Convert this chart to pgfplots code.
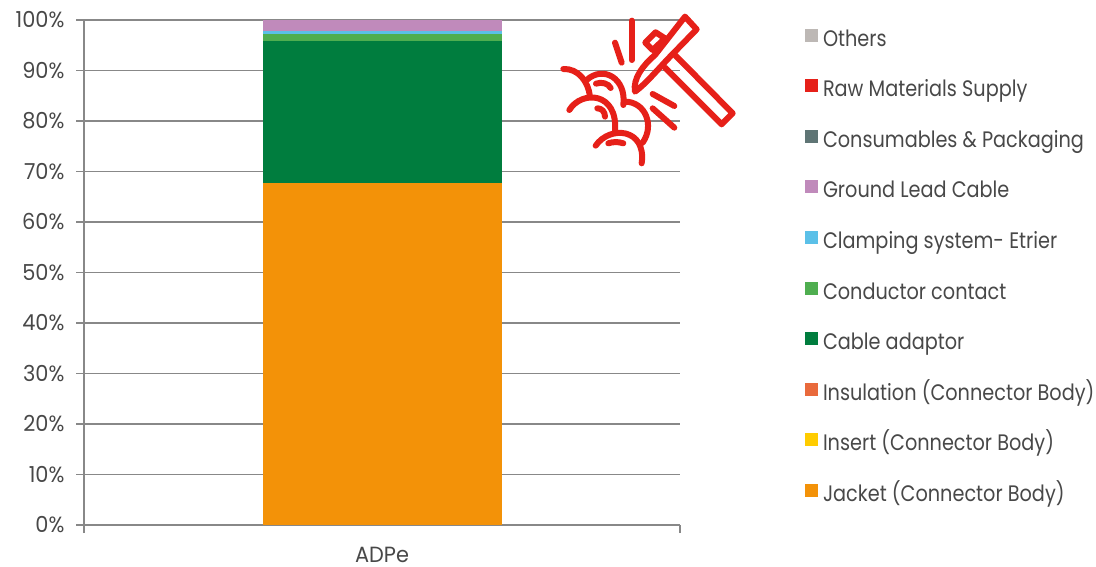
\documentclass[border=0pt]{standalone}
\usepackage{fontspec}
\setmainfont[FakeStretch=0.86]{Poppins}
\newfontfamily\tickfont[FakeStretch=0.95]{Poppins}
\usepackage{pgfplots}
\pgfplotsset{compat=1.18}
\definecolor{cJacket}{HTML}{F39208}
\definecolor{cInsert}{HTML}{FFCC00}
\definecolor{cInsul}{HTML}{E96A3C}
\definecolor{cCable}{HTML}{007D3E}
\definecolor{cCond}{HTML}{4FAE50}
\definecolor{cClamp}{HTML}{5BC0E8}
\definecolor{cGround}{HTML}{C08ABB}
\definecolor{cCons}{HTML}{5F7575}
\definecolor{cRaw}{HTML}{E62019}
\definecolor{cOther}{HTML}{BDB8B5}
\definecolor{axisgrey}{HTML}{888888}
\definecolor{labelgrey}{HTML}{484848}
\begin{document}
\begin{tikzpicture}[x=1pt,y=1pt]
\path (0,0) rectangle (1096,566);
\begin{axis}[
  at={(84pt,41pt)}, anchor=origin,
  width=596pt, height=505pt, scale only axis,
  xmin=0, xmax=1, ymin=0, ymax=100,
  ybar stacked, bar width=239pt,
  axis x line*=bottom, axis y line*=left,
  axis line style={axisgrey, line width=1.9pt, -},
  xtick={0,1}, xticklabels={,},
  extra x ticks={0.5}, extra x tick labels={ADPe},
  extra x tick style={major tick length=0pt, tick label style={inner sep=0pt, yshift=-21.5pt}},
  ytick={0,10,...,100},
  yticklabel={\pgfmathprintnumber{\tick}\%},
  /pgf/number format/assume math mode=true,
  ymajorgrids, grid style={axisgrey, line width=1.9pt},
  major tick length=8pt,
  tick align=outside,
  tick style={axisgrey, line width=1.9pt},
  tick label style={font=\tickfont\fontsize{22}{24}\selectfont, text=labelgrey},
  yticklabel style={xshift=-8pt},
  legend cell align=left,
  reverse legend,
  legend style={
    at={(721pt,496.5pt)}, anchor=north west, draw=none, fill=none,
    font=\fontsize{22.4}{24}\selectfont, text=labelgrey,
    nodes={text height=16pt, text depth=5pt, inner sep=0pt, outer sep=0pt},
    row sep=28.1pt, inner sep=0pt, outer sep=0pt,
    /tikz/every odd column/.append style={column sep=5pt},
  },
  legend image code/.code={\fill[#1] (0pt,-1pt) rectangle (13pt,12pt);},
  clip=false,
]
\addplot+[draw=none, fill=cJacket] coordinates {(0.5,67.7)};
\addlegendentry{Jacket (Connector Body)}
\addplot+[draw=none, fill=cInsert] coordinates {(0.5,0)};
\addlegendentry{Insert (Connector Body)}
\addplot+[draw=none, fill=cInsul] coordinates {(0.5,0)};
\addlegendentry{Insulation (Connector Body)}
\addplot+[draw=none, fill=cCable] coordinates {(0.5,28.1)};
\addlegendentry{Cable adaptor}
\addplot+[draw=none, fill=cCond] coordinates {(0.5,1.45)};
\addlegendentry{Conductor contact}
\addplot+[draw=none, fill=cClamp] coordinates {(0.5,0.6)};
\addlegendentry{Clamping system- Etrier}
\addplot+[draw=none, fill=cGround] coordinates {(0.5,2.15)};
\addlegendentry{Ground Lead Cable}
\addplot+[draw=none, fill=cCons] coordinates {(0.5,0)};
\addlegendentry{Consumables \& Packaging}
\addplot+[draw=none, fill=cRaw] coordinates {(0.5,0)};
\addlegendentry{Raw Materials Supply}
\addplot+[draw=none, fill=cOther] coordinates {(0.5,0)};
\addlegendentry{Others}
\end{axis}
% hammer and rock pictogram
\begin{scope}[shift={(540,566)}, x=0.3333pt, y=-0.3333pt, draw=cRaw,
              line width=6pt, line cap=round, line join=round]
  % handle
  \draw (405,165) -- (578,340) -- (545,373) -- (375,203);
  % head
  \draw (435,50) -- (470,88) -- (400,160) .. controls (360,200) and (320,250) .. (285,275)
        .. controls (278,235) and (310,195) .. (345,165) -- cycle;
  \draw (347,97) -- (316,128) -- (338,150) -- (375,115) -- cycle;
  % sparks
  \draw (275,62) -- (275,180);
  \draw (225,128) -- (245,188);
  \draw (338,282) -- (403,318);
  \draw (338,325) -- (403,383);
  % rocks
  \draw (70,207) .. controls (115,205) and (145,245) .. (150,290);
  \draw (140,240) .. controls (190,195) and (260,235) .. (250,315);
  \draw (88,330) .. controls (125,270) and (235,275) .. (225,395);
  \draw (255,305) .. controls (315,305) and (345,375) .. (308,428);
  \draw (167,437) .. controls (210,375) and (320,385) .. (305,490);
  \draw (168,251) .. controls (185,245) and (205,250) .. (212,264);
  \draw (172,325) .. controls (185,325) and (195,335) .. (195,350);
  \draw (205,430) .. controls (220,425) and (235,425) .. (250,430);
\end{scope}
\end{tikzpicture}
\end{document}
